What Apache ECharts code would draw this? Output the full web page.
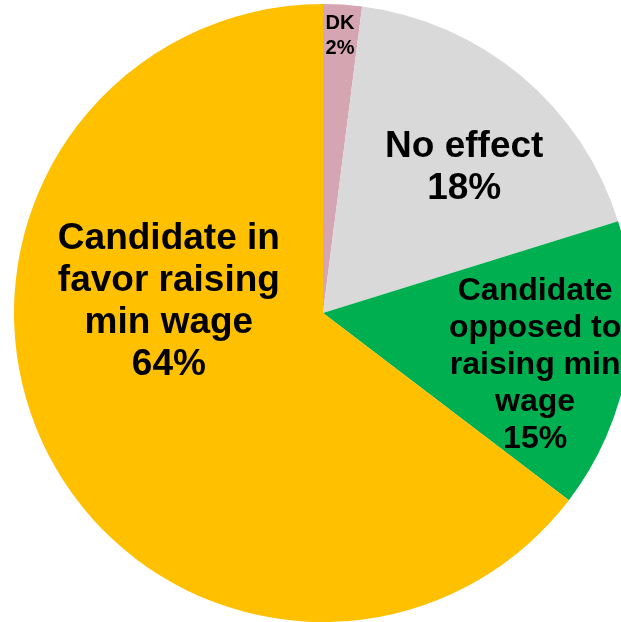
<!DOCTYPE html>
<html>
<head>
<meta charset="utf-8">
<script src="https://cdn.jsdelivr.net/npm/echarts@6/dist/echarts.min.js"></script>
<style>
  html, body { margin: 0; padding: 0; background: #fff; }
  #chart { width: 621px; height: 622px; }
</style>
</head>
<body>
<div id="chart"></div>
<script>
// slices, clockwise from 12 o'clock
const names = ["DK", "No effect", "Candidate opposed to raising min wage", "Candidate in favor raising min wage"];
const labelText = ["DK", "No effect", "Candidate\nopposed to\nraising min\nwage", "Candidate in\nfavor raising\nmin wage"];
const values = [2, 18, 15, 64];
const colors = ["#D5A6B1", "#D9D9D9", "#00B050", "#FFC000"];

// label tweaks per slice
const labelSize = [20, 37, 32, 37];
const labelLine = [25, 42, 37, 42];
const labelOffset = [[7, -120], [40, -25], [57, 25], [-13, -81]];

const chart = echarts.init(document.getElementById("chart"));

const data = values.map((v, i) => ({
  name: names[i],
  value: v,
  itemStyle: { color: colors[i] },
  label: {
    formatter: labelText[i] + "\n" + v + "%",
    fontSize: labelSize[i],
    lineHeight: labelLine[i],
    offset: labelOffset[i],
  },
}));

chart.setOption({
  animation: false,
  series: [
    {
      type: "pie",
      center: [323, 313],
      radius: [0, 309],
      startAngle: 90,
      clockwise: true,
      data: data,
      label: {
        show: true,
        position: "inside",
        color: "#000",
        fontWeight: "bold",
        fontFamily: "Liberation Sans, Arial, sans-serif",
        align: "center",
      },
      labelLine: { show: false },
      emphasis: { disabled: true },
    },
  ],
});
</script>
</body>
</html>
